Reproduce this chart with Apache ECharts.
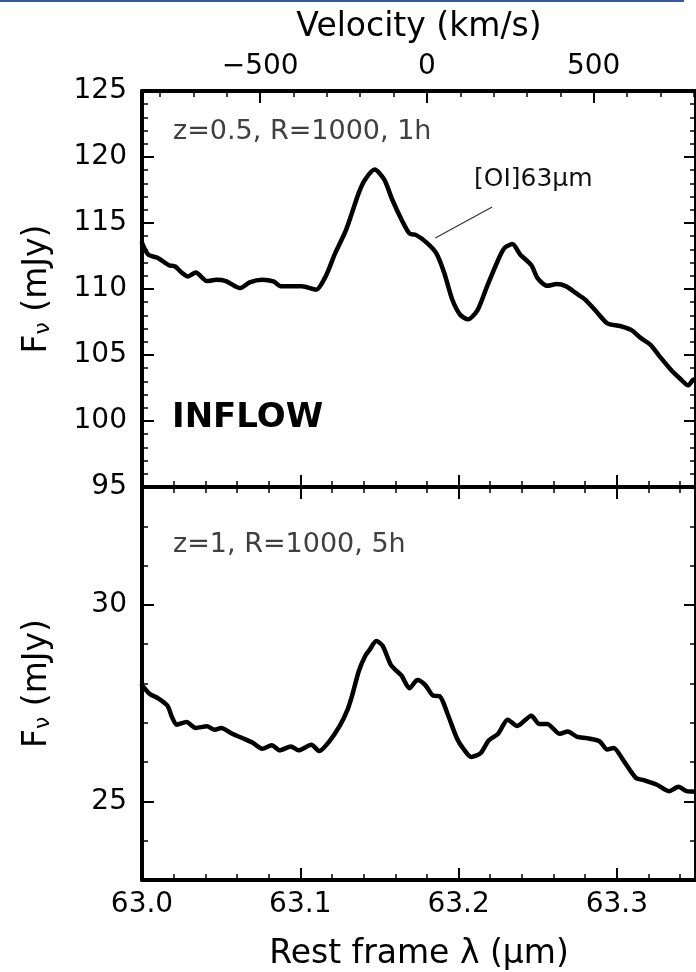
<!DOCTYPE html>
<html>
<head>
<meta charset="utf-8">
<script src="https://cdn.jsdelivr.net/npm/echarts@6/dist/echarts.min.js"></script>
<style>
  html, body { margin: 0; padding: 0; background: #fff; }
  #chart { width: 696px; height: 972px; }
</style>
</head>
<body>
<div id="chart"></div>
<script>
// [OI] 63 micron spectra of an inflow model at two redshifts.
const REST_LINE = 63.18;      // micron, zero point of the velocity scale
const C_KMS = 299792.458;

// Upper panel: z=0.5, R=1000, 1h
const waveTop = [
  63.000, 63.004, 63.010, 63.017, 63.021, 63.025, 63.029, 63.034, 63.041, 63.047,
  63.053, 63.062, 63.068, 63.076, 63.083, 63.088, 63.101, 63.110, 63.116, 63.122,
  63.129, 63.137, 63.141, 63.147, 63.153, 63.158, 63.164, 63.169, 63.173, 63.180,
  63.186, 63.191, 63.196, 63.201, 63.206, 63.212, 63.218, 63.225, 63.229, 63.234,
  63.239, 63.246, 63.250, 63.256, 63.262, 63.268, 63.274, 63.280, 63.287, 63.294,
  63.302, 63.309, 63.315, 63.321, 63.327, 63.334, 63.340, 63.345, 63.348, 63.350
];
const fluxTop = [
  113.5, 112.6, 112.35, 111.8, 111.7, 111.25, 110.95, 111.25, 110.6, 110.7,
  110.6, 110.07, 110.5, 110.7, 110.57, 110.2, 110.2, 109.95, 110.95, 112.7,
  114.5, 117.3, 118.3, 119.05, 118.3, 116.8, 115.25, 114.2, 114.1, 113.5,
  112.7, 111.2, 109.2, 108.05, 107.7, 108.4, 110.2, 112.2, 113.1, 113.4,
  112.6, 111.8, 110.8, 110.24, 110.37, 110.2, 109.7, 109.2, 108.3, 107.4,
  107.2, 106.9, 106.3, 105.8, 104.9, 103.9, 103.2, 102.7, 103.1, 103.2
];

// Lower panel: z=1, R=1000, 5h
const waveBottom = [
  63.000, 63.005, 63.010, 63.016, 63.019, 63.022, 63.028, 63.034, 63.041, 63.046,
  63.050, 63.057, 63.064, 63.070, 63.076, 63.082, 63.087, 63.094, 63.099, 63.107,
  63.112, 63.118, 63.125, 63.130, 63.133, 63.137, 63.141, 63.144, 63.148, 63.152,
  63.157, 63.160, 63.164, 63.169, 63.174, 63.179, 63.184, 63.188, 63.193, 63.199,
  63.203, 63.208, 63.214, 63.219, 63.225, 63.231, 63.237, 63.246, 63.251, 63.256,
  63.264, 63.269, 63.275, 63.281, 63.289, 63.294, 63.298, 63.304, 63.312, 63.317,
  63.325, 63.333, 63.339, 63.344, 63.348, 63.350
];
const fluxBottom = [
  27.96, 27.73, 27.63, 27.44, 27.14, 26.95, 27.02, 26.87, 26.91, 26.82,
  26.87, 26.72, 26.60, 26.49, 26.34, 26.43, 26.30, 26.40, 26.30, 26.44,
  26.28, 26.51, 26.93, 27.35, 27.73, 28.32, 28.70, 28.87, 29.08, 28.96,
  28.49, 28.35, 28.20, 27.88, 28.09, 27.96, 27.69, 27.68, 27.23, 26.60,
  26.34, 26.13, 26.23, 26.55, 26.72, 27.08, 26.92, 27.18, 26.97, 26.97,
  26.72, 26.78, 26.64, 26.61, 26.53, 26.32, 26.36, 26.05, 25.60, 25.54,
  25.43, 25.26, 25.37, 25.26, 25.25, 25.24
];

// Axis ranges and tick values
const waveRange = [63.0, 63.35];
const fluxRangeTop = [95, 125];
const fluxRangeBottom = [23, 33];
const velocityTicks = [-500, 0, 500];
const velocityMinorTicks = [-800, -700, -600, -400, -300, -200, -100, 100, 200, 300, 400, 600, 700, 800];
const bottomFluxTicks = [25, 30];

// Texts
const panelLabels = ['z=0.5, R=1000, 1h', 'z=1, R=1000, 5h'];
const regimeLabel = 'INFLOW';
const lineName = '[OI]63\u03bcm';

const toVelocity = w => C_KMS * (w - REST_LINE) / REST_LINE;
const zip = (xs, ys) => xs.map((x, i) => [x, ys[i]]);

// Layout
const FONT = 'DejaVu Sans';
const G_LEFT = 142, G_WIDTH = 556.5;
const G0_TOP = 91, G0_H = 396;
const G1_TOP = 487, G1_H = 395;

const LINE_W = 4;
const axisLine = { show: true, onZero: false, lineStyle: { color: '#000', width: LINE_W } };
const noSplit = { show: false };
const tickMajor = (extra) => Object.assign({ show: true, inside: true, length: 12, lineStyle: { color: '#000', width: 2 } }, extra || {});
const tickMinor = (extra) => Object.assign({ show: true, inside: true, length: 6, lineStyle: { color: '#000', width: 1.5 } }, extra || {});
const minorOn = { show: true, splitNumber: 5, length: 6, lineStyle: { color: '#000', width: 1.5 } };
const labelStyle = { color: '#000', fontSize: 28, fontFamily: FONT };
const nameStyle = { color: '#000', fontSize: 33, fontFamily: FONT };
const yNameStyle = {
  color: '#000', fontSize: 33, fontFamily: FONT,
  rich: { sub: { fontSize: 22, fontFamily: FONT, color: '#000', lineHeight: 14, verticalAlign: 'bottom' } }
};
const minus = v => (v < 0 ? '\u2212' + Math.abs(v) : String(v));

const chart = echarts.init(document.getElementById('chart'), null, { renderer: 'canvas' });

const option = {
  backgroundColor: '#fff',
  animation: false,
  grid: [
    { left: G_LEFT, top: G0_TOP, width: G_WIDTH, height: G0_H, containLabel: false },
    { left: G_LEFT, top: G1_TOP, width: G_WIDTH, height: G1_H, containLabel: false }
  ],
  xAxis: [
    // upper panel, wavelength ticks along the bottom edge
    { gridIndex: 0, type: 'value', position: 'bottom', min: waveRange[0], max: waveRange[1], interval: 0.1,
      axisLine, axisTick: tickMajor(), minorTick: minorOn, axisLabel: { show: false }, splitLine: noSplit, minorSplitLine: noSplit },
    // upper panel, velocity scale along the top edge
    { gridIndex: 0, type: 'value', position: 'top', min: toVelocity(waveRange[0]), max: toVelocity(waveRange[1]),
      axisLine, axisTick: tickMajor({ customValues: velocityTicks }),
      axisLabel: Object.assign({ customValues: velocityTicks, margin: 10, formatter: minus }, labelStyle),
      splitLine: noSplit,
      name: 'Velocity (km/s)', nameLocation: 'middle', nameGap: 47, nameTextStyle: nameStyle },
    { gridIndex: 0, type: 'value', position: 'top', min: toVelocity(waveRange[0]), max: toVelocity(waveRange[1]),
      axisLine: { show: false, onZero: false }, axisTick: tickMinor({ customValues: velocityMinorTicks }),
      axisLabel: { show: false }, splitLine: noSplit },
    // lower panel, wavelength axis
    { gridIndex: 1, type: 'value', position: 'bottom', min: waveRange[0], max: waveRange[1], interval: 0.1,
      axisLine, axisTick: tickMajor(), minorTick: minorOn,
      axisLabel: Object.assign({ margin: 11, showMaxLabel: false, formatter: v => v.toFixed(1) }, labelStyle),
      splitLine: noSplit, minorSplitLine: noSplit,
      name: 'Rest frame \u03bb (\u03bcm)', nameLocation: 'middle', nameGap: 58, nameTextStyle: nameStyle },
    { gridIndex: 1, type: 'value', position: 'top', min: waveRange[0], max: waveRange[1], interval: 0.1,
      axisLine, axisTick: tickMajor(), minorTick: minorOn, axisLabel: { show: false }, splitLine: noSplit, minorSplitLine: noSplit }
  ],
  yAxis: [
    // upper panel
    { gridIndex: 0, type: 'value', position: 'left', min: fluxRangeTop[0], max: fluxRangeTop[1], interval: 5,
      axisLine, axisTick: tickMajor(), minorTick: minorOn,
      axisLabel: Object.assign({ margin: 15 }, labelStyle), splitLine: noSplit, minorSplitLine: noSplit,
      name: 'F{sub|\u03bd} (mJy)', nameLocation: 'middle', nameGap: 88, nameTextStyle: yNameStyle },
    { gridIndex: 0, type: 'value', position: 'right', min: fluxRangeTop[0], max: fluxRangeTop[1], interval: 5,
      axisLine, axisTick: tickMajor(), minorTick: minorOn, axisLabel: { show: false }, splitLine: noSplit, minorSplitLine: noSplit },
    // lower panel: minor ticks every 1 mJy, labelled ticks at 25 and 30
    { gridIndex: 1, type: 'value', position: 'left', min: fluxRangeBottom[0], max: fluxRangeBottom[1], interval: 1,
      axisLine, axisTick: tickMinor(), axisLabel: { show: false }, splitLine: noSplit },
    { gridIndex: 1, type: 'value', position: 'left', min: fluxRangeBottom[0], max: fluxRangeBottom[1],
      axisLine: { show: false, onZero: false }, axisTick: tickMajor({ customValues: bottomFluxTicks }),
      axisLabel: Object.assign({ customValues: bottomFluxTicks, margin: 15 }, labelStyle), splitLine: noSplit,
      name: 'F{sub|\u03bd} (mJy)', nameLocation: 'middle', nameGap: 88, nameTextStyle: yNameStyle },
    { gridIndex: 1, type: 'value', position: 'right', min: fluxRangeBottom[0], max: fluxRangeBottom[1], interval: 1,
      axisLine, axisTick: tickMinor(), axisLabel: { show: false }, splitLine: noSplit },
    { gridIndex: 1, type: 'value', position: 'right', min: fluxRangeBottom[0], max: fluxRangeBottom[1],
      axisLine: { show: false, onZero: false }, axisTick: tickMajor({ customValues: bottomFluxTicks }),
      axisLabel: { show: false }, splitLine: noSplit }
  ],
  series: [
    {
      type: 'line', xAxisIndex: 0, yAxisIndex: 0,
      data: zip(waveTop, fluxTop),
      showSymbol: false, smooth: 0.25, clip: true,
      lineStyle: { color: '#000', width: 4.5, join: 'round', cap: 'round' },
      markLine: {
        silent: true, symbol: 'none', label: { show: false },
        lineStyle: { color: '#333', width: 1.2, type: 'solid' },
        data: [[{ coord: [63.1853, 113.86] }, { coord: [63.2212, 116.21] }]]
      },
      markPoint: {
        silent: true, symbol: 'circle', symbolSize: 0,
        data: [{ coord: [63.2472, 118.28] }],
        label: { show: true, position: 'inside', formatter: lineName, color: '#111', fontSize: 25, fontFamily: FONT }
      }
    },
    {
      type: 'line', xAxisIndex: 3, yAxisIndex: 2,
      data: zip(waveBottom, fluxBottom),
      showSymbol: false, smooth: 0.25, clip: true,
      lineStyle: { color: '#000', width: 4.5, join: 'round', cap: 'round' }
    }
  ],
  graphic: [
    { type: 'rect', shape: { x: 0, y: 0, width: 684, height: 2 }, style: { fill: '#3b5998' }, silent: true },
    { type: 'text', silent: true,
      style: { text: panelLabels[0], x: G_LEFT + 31, y: 131.5, fill: '#404040', fontSize: 27, fontFamily: FONT,
               align: 'left', verticalAlign: 'middle' } },
    { type: 'text', silent: true,
      style: { text: regimeLabel, x: G_LEFT + 30, y: 418, fill: '#000', fontSize: 34, fontWeight: 'bold', fontFamily: FONT,
               align: 'left', verticalAlign: 'middle' } },
    { type: 'text', silent: true,
      style: { text: panelLabels[1], x: G_LEFT + 31, y: 545, fill: '#404040', fontSize: 27, fontFamily: FONT,
               align: 'left', verticalAlign: 'middle' } }
  ]
};

chart.setOption(option);
</script>
</body>
</html>
